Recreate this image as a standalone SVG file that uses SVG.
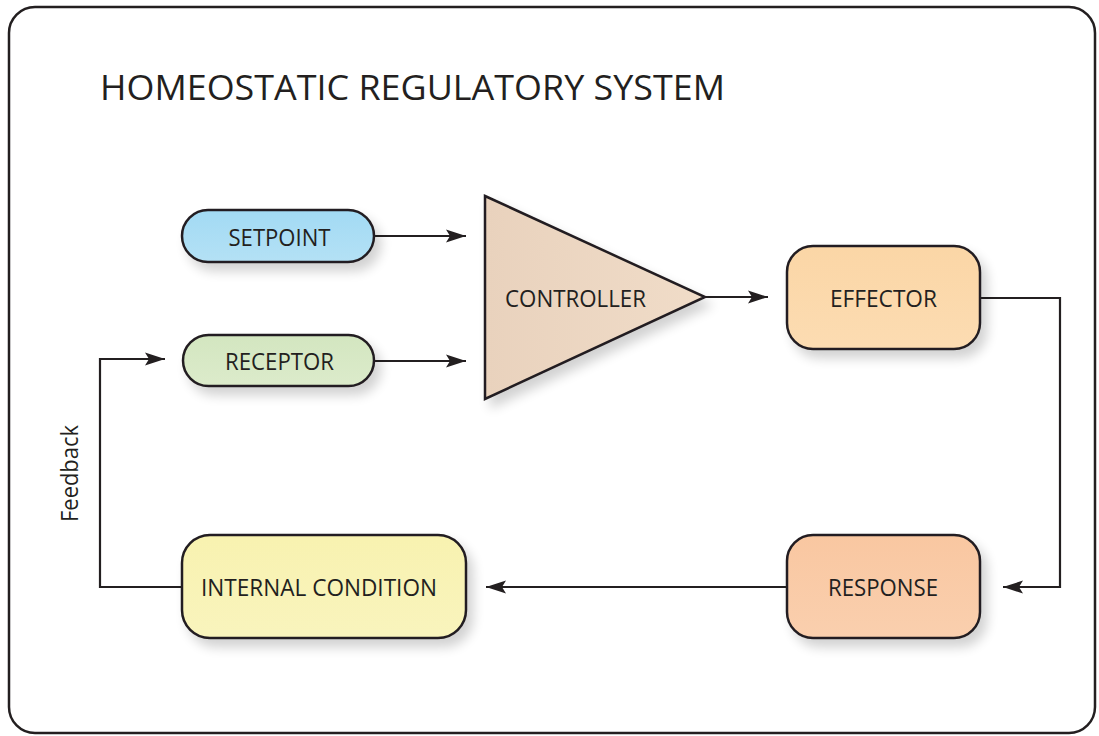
<svg xmlns="http://www.w3.org/2000/svg" width="1099" height="736" viewBox="0 0 1099 736">
<defs>
<style>
.lbl{font-family:"Open Sans","Liberation Sans",sans-serif;font-size:23px;fill:#231f20;text-anchor:middle;dominant-baseline:central}
.shape{stroke:#231f20;stroke-width:2.5}
.con{fill:none;stroke:#231f20;stroke-width:2.2}
</style>
<marker id="ah" viewBox="0 0 20 14" refX="20" refY="7" markerWidth="20" markerHeight="14" markerUnits="userSpaceOnUse" orient="auto">
<path d="M0,0.5 L20,7 L0,13.5 L4,7 Z" fill="#231f20"/>
</marker>
<filter id="sh" x="-20%" y="-20%" width="150%" height="160%">
<feGaussianBlur in="SourceAlpha" stdDeviation="6"/>
<feOffset dx="6" dy="8" result="b"/>
<feComponentTransfer><feFuncA type="linear" slope="0.18"/></feComponentTransfer>
<feMerge><feMergeNode/><feMergeNode in="SourceGraphic"/></feMerge>
</filter>
<linearGradient id="gBlue" x1="0" y1="0" x2="0" y2="1"><stop offset="0" stop-color="#a2daf4"/><stop offset="1" stop-color="#b4e1f5"/></linearGradient>
<linearGradient id="gGreen" x1="0" y1="0" x2="0" y2="1"><stop offset="0" stop-color="#d3e6c0"/><stop offset="1" stop-color="#dcebcb"/></linearGradient>
<linearGradient id="gCtrl" x1="0" y1="0" x2="1" y2="0"><stop offset="0" stop-color="#e9d2bd"/><stop offset="1" stop-color="#f0dcc8"/></linearGradient>
<linearGradient id="gEff" x1="0" y1="0" x2="0" y2="1"><stop offset="0" stop-color="#fbd6a6"/><stop offset="1" stop-color="#fcdcb2"/></linearGradient>
<linearGradient id="gResp" x1="0" y1="0" x2="0" y2="1"><stop offset="0" stop-color="#f9c7a1"/><stop offset="1" stop-color="#facfae"/></linearGradient>
<linearGradient id="gInt" x1="0" y1="0" x2="0" y2="1"><stop offset="0" stop-color="#f8f2b0"/><stop offset="1" stop-color="#f9f4bd"/></linearGradient>
</defs>
<rect x="0" y="0" width="1099" height="736" fill="#ffffff"/>
<rect x="9" y="7" width="1086" height="726" rx="26" fill="none" stroke="#231f20" stroke-width="2.5"/>
<text x="100" y="100" font-family="'Open Sans','Liberation Sans',sans-serif" font-size="34" fill="#231f20" textLength="625" lengthAdjust="spacingAndGlyphs">HOMEOSTATIC REGULATORY SYSTEM</text>

<g id="connectors">
<line class="con" x1="374" y1="236" x2="466" y2="236" marker-end="url(#ah)"/>
<line class="con" x1="374" y1="361" x2="466" y2="361" marker-end="url(#ah)"/>
<line class="con" x1="705" y1="297" x2="768" y2="297" marker-end="url(#ah)"/>
<polyline class="con" points="980,298 1060,298 1060,587 1003,587" marker-end="url(#ah)"/>
<line class="con" x1="787" y1="587" x2="486" y2="587" marker-end="url(#ah)"/>
<polyline class="con" points="182,587 100,587 100,359 165,359" marker-end="url(#ah)"/>
</g>

<g id="setpoint">
<rect class="shape" x="182" y="210" width="192" height="52" rx="26" fill="url(#gBlue)" filter="url(#sh)"/>
<text class="lbl" x="279.5" y="237" textLength="102" lengthAdjust="spacingAndGlyphs">SETPOINT</text>
</g>
<g id="receptor">
<rect class="shape" x="183" y="335" width="191" height="51" rx="25.5" fill="url(#gGreen)" filter="url(#sh)"/>
<text class="lbl" x="279.5" y="361" textLength="109" lengthAdjust="spacingAndGlyphs">RECEPTOR</text>
</g>
<g id="controller">
<polygon class="shape" points="485,196 705,297 485,399" fill="url(#gCtrl)" filter="url(#sh)"/>
<text class="lbl" x="575.5" y="298" textLength="141" lengthAdjust="spacingAndGlyphs">CONTROLLER</text>
</g>
<g id="effector">
<rect class="shape" x="787" y="246" width="193" height="103" rx="26" fill="url(#gEff)" filter="url(#sh)"/>
<text class="lbl" x="883.5" y="298" textLength="107" lengthAdjust="spacingAndGlyphs">EFFECTOR</text>
</g>
<g id="response">
<rect class="shape" x="787" y="535" width="193" height="103" rx="26" fill="url(#gResp)" filter="url(#sh)"/>
<text class="lbl" x="883" y="587" textLength="110" lengthAdjust="spacingAndGlyphs">RESPONSE</text>
</g>
<g id="internal-condition">
<rect class="shape" x="182" y="535" width="284" height="103" rx="28" fill="url(#gInt)" filter="url(#sh)"/>
<text class="lbl" x="319" y="587" textLength="236" lengthAdjust="spacingAndGlyphs">INTERNAL CONDITION</text>
</g>
<g id="feedback-label">
<text class="lbl" transform="translate(69,473.5) rotate(-90)" x="0" y="0" textLength="97" lengthAdjust="spacingAndGlyphs">Feedback</text>
</g>
</svg>
